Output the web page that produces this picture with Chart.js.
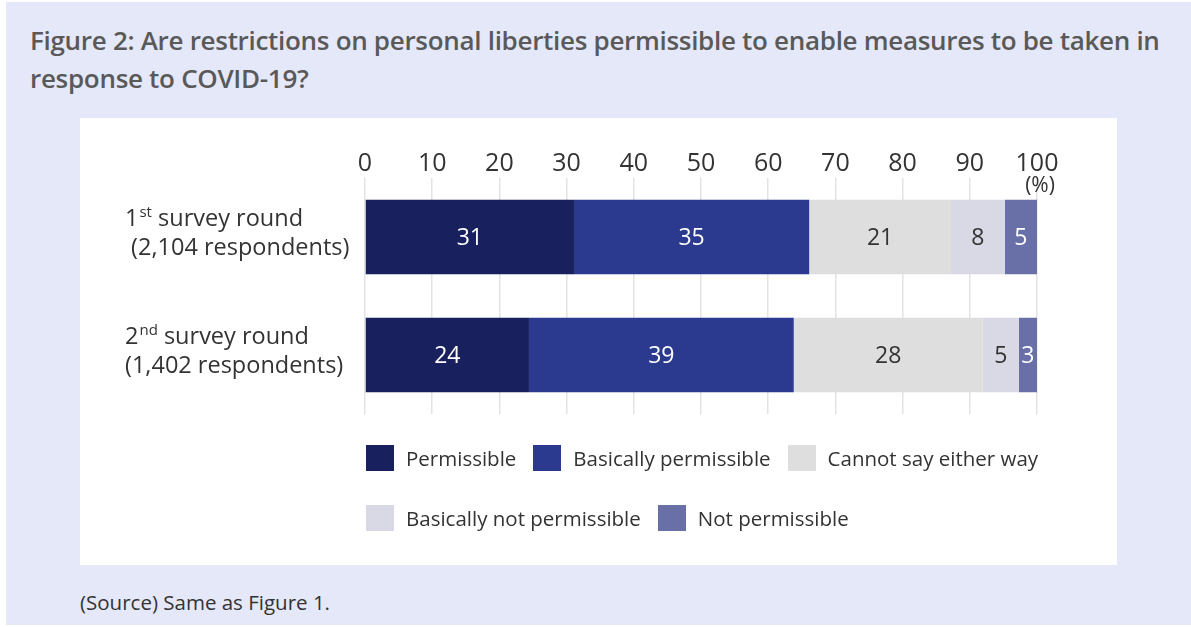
<!DOCTYPE html>
<html><head><meta charset="utf-8">
<script src="https://cdn.jsdelivr.net/npm/chart.js@4"></script>
<style>
html,body{margin:0;padding:0;background:#fff;width:1191px;height:627px;overflow:hidden;font-family:'Open Sans',sans-serif;}
#bg{position:absolute;left:6px;top:2px;width:1185px;height:623px;background:#e5e8f8;}
#title{position:absolute;left:30px;top:21px;font-size:26px;font-weight:600;color:#595959;line-height:38px;letter-spacing:-0.3px;white-space:nowrap;}
#panel{position:absolute;left:80px;top:118px;width:1037px;height:447px;background:#fff;}
#chartbox{position:absolute;left:0;top:0;width:1037px;height:447px;}
.lrow{position:absolute;left:286px;display:flex;align-items:center;font-size:20.5px;color:#333;}
.lbox{width:28px;height:26px;margin-right:12px;}
.ltxt{margin-right:17px;}
#source{position:absolute;left:80px;top:588px;font-size:20.5px;color:#333;}
</style></head>
<body>
<div id="bg"></div>
<div id="title">Figure 2: Are restrictions on personal liberties permissible to enable measures to be taken in<br>response to COVID-19?</div>
<div id="panel">
  <div id="chartbox"><canvas id="c" width="1037" height="447" style="width:1037px;height:447px"></canvas></div>
  <div class="lrow" id="lrow1" style="top:326px"></div>
  <div class="lrow" id="lrow2" style="top:386px"></div>
</div>
<div id="source">(Source) Same as Figure 1.</div>
<script>
const categories = ["1st survey round", "2nd survey round"];
const respondents = [" (2,104 respondents)", "(1,402 respondents)"];
const seriesNames = ["Permissible", "Basically permissible", "Cannot say either way", "Basically not permissible", "Not permissible"];
const permissible = [31.1, 24.4];
const basicallyPermissible = [35.0, 39.4];
const cannotSay = [21.1, 28.1];
const basicallyNotPermissible = [8.0, 5.4];
const notPermissible = [4.8, 2.7];
const xTicks = [0, 10, 20, 30, 40, 50, 60, 70, 80, 90, 100];
const unitLabel = "(%)";

const seriesData = [permissible, basicallyPermissible, cannotSay, basicallyNotPermissible, notPermissible];
const seriesColors = ["#19205e", "#2b3a8f", "#dedede", "#d8d9e4", "#6970a8"];
const labelColors = ["#ffffff", "#ffffff", "#333333", "#333333", "#ffffff"];
const FONT = "'Open Sans', sans-serif";

const labelPlugin = {
  id: 'labels',
  afterDatasetsDraw(chart) {
    const ctx = chart.ctx;
    ctx.save();
    ctx.textAlign = 'center';
    ctx.textBaseline = 'middle';
    ctx.font = "23px " + FONT;
    chart.data.datasets.forEach((ds, di) => {
      const meta = chart.getDatasetMeta(di);
      meta.data.forEach((bar, i) => {
        ctx.fillStyle = labelColors[di];
        ctx.fillText(String(Math.round(ds.data[i])), (bar.x + bar.base) / 2, bar.y + 1);
      });
    });
    // category labels
    const ys = chart.scales.y;
    ctx.textAlign = 'left';
    ctx.fillStyle = '#333';
    categories.forEach((c, i) => {
      const y = ys.getPixelForValue(i);
      const m = c.match(/^(\d+)(st|nd|rd|th)(.*)$/);
      let x = 45;
      const y1 = y - 18, y2 = y + 11;
      ctx.font = "23.5px " + FONT;
      ctx.fillText(m[1], x, y1); x += ctx.measureText(m[1]).width + 1;
      ctx.font = "15px " + FONT;
      ctx.fillText(m[2], x, y1 - 6); x += ctx.measureText(m[2]).width;
      ctx.font = "23.5px " + FONT;
      ctx.fillText(m[3], x, y1);
      ctx.fillText(respondents[i], 45, y2);
    });
    // unit
    const xs = chart.scales.x;
    ctx.textAlign = 'center';
    ctx.font = "21px " + FONT;
    ctx.fillText(unitLabel, xs.getPixelForValue(100) + 3, 68);
    ctx.restore();
  }
};

new Chart(document.getElementById('c'), {
  type: 'bar',
  data: {
    labels: categories,
    datasets: seriesNames.map((n, i) => ({
      label: n, data: seriesData[i], backgroundColor: seriesColors[i],
      borderWidth: 0, barPercentage: 0.63, categoryPercentage: 1
    }))
  },
  options: {
    indexAxis: 'y', responsive: false, animation: false, maintainAspectRatio: false,
    layout: { padding: { left: 285, right: 80, top: 20, bottom: 151 } },
    plugins: { legend: { display: false }, tooltip: { enabled: false } },
    scales: {
      x: {
        position: 'top', stacked: true, min: 0, max: 100,
        afterBuildTicks: s => { s.ticks = xTicks.map(v => ({ value: v })); },
        ticks: { color: '#333', font: { size: 25, family: FONT }, padding: -1, maxRotation: 0, autoSkip: false },
        grid: { color: '#e3e3e3', drawTicks: false, lineWidth: 1.5 },
        border: { display: false },
        afterFit: s => { s.height = 40; }
      },
      y: {
        stacked: true,
        ticks: { display: false }, grid: { display: false }, border: { display: false },
        afterFit: s => { s.width = 0; }
      }
    }
  },
  plugins: [labelPlugin]
});

const legendRows = [[0, 1, 2], [3, 4]];
legendRows.forEach((row, r) => {
  const el = document.getElementById('lrow' + (r + 1));
  row.forEach(i => {
    const b = document.createElement('div'); b.className = 'lbox'; b.style.background = seriesColors[i];
    const t = document.createElement('div'); t.className = 'ltxt'; t.textContent = seriesNames[i];
    el.appendChild(b); el.appendChild(t);
  });
});
</script>
</body></html>
